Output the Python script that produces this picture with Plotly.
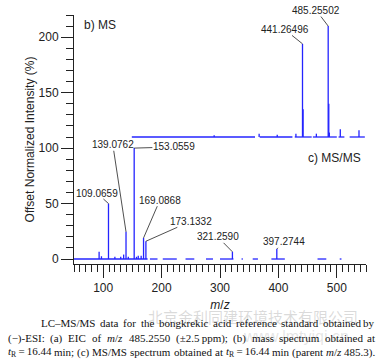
import re
import plotly.graph_objects as go

# ---------------- data ----------------
# (b) MS spectrum (offset by 110 %)
ms_offset = 110
ms_peak_mz = [290, 367, 398, 430, 441.26496, 442.27, 465, 485.25502, 486.26, 487.26, 506, 538]
ms_peak_int = [1.5, 3, 2, 3, 84, 25, 3, 100, 30, 4, 7, 6]
ms_baseline_start = [149, 368, 428, 459, 503, 522]
ms_baseline_end = [360, 424, 457, 500, 513, 548]
ms_label_mz = [441.26496, 485.25502]
ms_label_text = ["441.26496", "485.25502"]

# (c) MS/MS spectrum (no offset)
msms_offset = 0
msms_peak_mz = [93, 97, 109.0659, 120, 130, 135, 139.0762, 143, 153.0559, 157, 160, 165,
                169.0868, 173.1332, 321.2590, 397.2744]
msms_peak_int = [6.5, 2.5, 50, 2, 2, 4, 24.5, 2, 100, 2, 3, 3, 19, 16, 6.5, 9]
msms_baseline_start = [50, 180, 202, 241, 276, 300, 337, 356, 388, 467, 505]
msms_baseline_end = [176, 193, 226, 256, 288, 323, 339, 365, 411, 482, 508]
msms_label_mz = [109.0659, 139.0762, 153.0559, 169.0868, 173.1332, 321.2590, 397.2744]
msms_label_text = ["109.0659", "139.0762", "153.0559", "169.0868", "173.1332", "321.2590", "397.2744"]

x_tick_vals = [100, 200, 300, 400, 500]
y_tick_vals = [0, 50, 100, 150, 200]

# caption lines, as words (justified below)
caption_line1 = "LC–MS/MS data for the bongkrekic acid reference standard obtained by".split(" ")
caption_line2 = ["(−)-ESI:", "(a)", "EIC", "of", "<i>m</i>/<i>z</i>", "485.2550", "(±2.5\u2009ppm);",
                 "(b)", "mass", "spectrum", "obtained", "at"]
caption_line3 = ["<i>t</i><sub>R</sub>\u2009=\u200916.44", "min;", "(c)", "MS/MS", "spectrum", "obtained",
                 "at", "<i>t</i><sub>R</sub>\u2009=\u200916.44", "min", "(parent", "<i>m</i>/<i>z</i>", "485.3)."]

# ---------------- styling ----------------
BLUE = "#2424ff"
INK = "#222222"
SANS = "Liberation Sans, Arial, sans-serif"
SERIF = "Liberation Serif, serif"
CAP_SIZE = 11


def stick_trace(offset, starts, ends, mz, inten):
    xs, ys = [], []
    for a, b in zip(starts, ends):
        xs += [a, b, None]
        ys += [offset, offset, None]
    for m, v in zip(mz, inten):
        xs += [m, m, None]
        ys += [offset, offset + v, None]
    return go.Scatter(x=xs, y=ys, mode="lines", line=dict(color=BLUE, width=1.3),
                      hoverinfo="skip", showlegend=False)


fig = go.Figure()
fig.add_trace(stick_trace(ms_offset, ms_baseline_start, ms_baseline_end, ms_peak_mz, ms_peak_int))
fig.add_trace(stick_trace(msms_offset, msms_baseline_start, msms_baseline_end, msms_peak_mz, msms_peak_int))

# label text positions (layout, in data units)
ms_text_pos = {441.26496: (410.5, 207), 485.25502: (465, 224)}
msms_text_pos = {
    109.0659: (89, 59.5),
    139.0762: (116.5, 103),
    153.0559: (221, 101),
    169.0868: (197, 53),
    173.1332: (250, 34),
    321.2590: (296, 20),
    397.2744: (409, 15.5),
}

annotations = []


def add_labels(mz_list, text_list, offset, peak_mz, peak_int, pos):
    for m, t in zip(mz_list, text_list):
        h = peak_int[peak_mz.index(m)]
        ax, ay = pos[m]
        annotations.append(dict(
            x=m, y=offset + h, ax=ax, ay=ay, xref="x", yref="y", axref="x", ayref="y",
            text=t, showarrow=True, arrowhead=0, arrowwidth=0.8, arrowcolor=INK,
            standoff=0, startstandoff=0, borderpad=0,
            font=dict(family=SANS, size=10, color=INK)))


add_labels(ms_label_mz, ms_label_text, ms_offset, ms_peak_mz, ms_peak_int, ms_text_pos)
add_labels(msms_label_mz, msms_label_text, msms_offset, msms_peak_mz, msms_peak_int, msms_text_pos)

annotations.append(dict(x=63.5, y=211, xref="x", yref="y", text="b) MS", showarrow=False,
                        xanchor="left", font=dict(family=SANS, size=12, color=INK)))
annotations.append(dict(x=545, y=91, xref="x", yref="y", text="c) MS/MS", showarrow=False,
                        xanchor="right", font=dict(family=SANS, size=12, color=INK)))

# faint watermark (behind caption)
annotations.append(dict(x=0.98, y=-0.212, xref="paper", yref="paper", text="北京金利同建环境技术有限公司",
                        showarrow=False, xanchor="right", yanchor="middle",
                        font=dict(family="Noto Sans CJK SC", size=15, color="rgba(150,150,150,0.35)")))
annotations.append(dict(x=0.76, y=-0.29, xref="paper", yref="paper", text="www.lmtyiqi.cn",
                        showarrow=False, xanchor="center", yanchor="middle",
                        font=dict(family=SANS, size=16, color="rgba(150,150,150,0.25)")))

# ---------------- justified caption ----------------
# approximate Times/Liberation Serif advance widths (per 1000 em)
W = {" ": 250, "(": 333, ")": 333, ",": 250, "-": 333, ".": 250, "/": 278, ":": 278, ";": 278,
     "=": 564, "±": 564, "−": 564, "–": 500, "\u2009": 167}
W.update({d: 500 for d in "0123456789"})
W.update(dict(zip("ABCDEFGHIJKLMNOPQRSTUVWXYZ",
                  [722, 667, 667, 722, 611, 556, 722, 722, 333, 389, 722, 611, 889, 722, 722, 556,
                   722, 667, 556, 611, 722, 722, 944, 722, 722, 611])))
W.update(dict(zip("abcdefghijklmnopqrstuvwxyz",
                  [444, 500, 444, 500, 444, 333, 500, 500, 278, 278, 500, 278, 778, 500, 500, 500,
                   500, 333, 389, 278, 500, 500, 722, 500, 500, 444])))


def word_width(word, size):
    total = 0.0
    scale = 1.0
    for tok in re.split(r"(<[^>]+>)", word):
        if tok == "<sub>":
            scale = 0.7
        elif tok == "</sub>":
            scale = 1.0
        elif tok.startswith("<"):
            continue
        else:
            total += sum(W.get(c, 500) for c in tok) * scale
    return total * size / 1000.0


PW, PH, L, T = 292.0, 249.0, 74.0, 15.0


def px_x(px):
    return (px - L) / PW


def px_y(py):
    return (T + PH - py) / PH


cap_rows = [(caption_line1, 40, 323), (caption_line2, 7, 338), (caption_line3, 7, 352)]
RIGHT = 376
for words, left_px, y_px in cap_rows:
    widths = [word_width(w, CAP_SIZE) for w in words]
    gap = (RIGHT - left_px - sum(widths)) / (len(words) - 1)
    xcur = left_px
    for i, (w, wd) in enumerate(zip(words, widths)):
        last = i == len(words) - 1
        annotations.append(dict(x=px_x(RIGHT if last else xcur), y=px_y(y_px), xref="paper", yref="paper",
                                text=w, showarrow=False, xanchor="right" if last else "left",
                                yanchor="middle", borderpad=0,
                                font=dict(family=SERIF, size=CAP_SIZE, color="#111111")))
        xcur += wd + gap

fig.update_layout(
    width=382, height=361,
    margin=dict(l=74, r=16, t=15, b=97),
    paper_bgcolor="white", plot_bgcolor="white",
    annotations=annotations,
    font=dict(family=SANS, color=INK),
)

fig.update_xaxes(
    range=[50, 550], tickmode="array", tickvals=x_tick_vals,
    ticks="outside", ticklen=13, tickwidth=1, tickcolor=INK,
    minor=dict(dtick=10, tick0=0, ticks="outside", ticklen=7, tickcolor=INK, showgrid=False),
    showline=True, linecolor=INK, linewidth=1, showgrid=False, zeroline=False,
    tickfont=dict(family=SANS, size=12, color=INK),
    title=dict(text="<i>m</i>/<i>z</i>", font=dict(family=SANS, size=12, color=INK), standoff=6),
)
fig.update_yaxes(
    range=[-4.5, 220], tickmode="array", tickvals=y_tick_vals,
    ticks="outside", ticklen=12, tickwidth=1, tickcolor=INK,
    minor=dict(dtick=10, tick0=0, ticks="outside", ticklen=7, tickcolor=INK, showgrid=False),
    showline=True, linecolor=INK, linewidth=1, showgrid=False, zeroline=False,
    tickfont=dict(family=SANS, size=12, color=INK),
    title=dict(text="Offset Normalized Intensity (%)", font=dict(family=SANS, size=12, color=INK), standoff=1),
)

fig.write_html("out.html", config={"displayModeBar": False},
               post_script="document.body.style.margin='0';")
